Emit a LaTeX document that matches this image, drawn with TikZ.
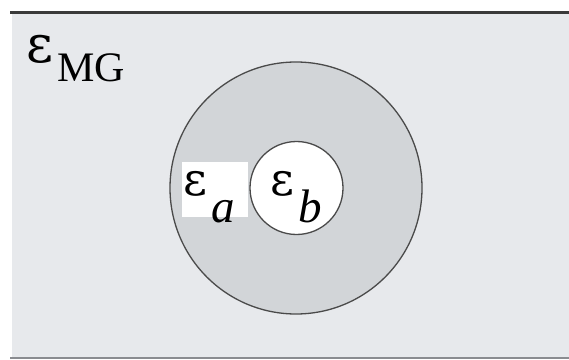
\documentclass[tikz,border=0pt]{standalone}
\usepackage{fontspec}
\setmainfont{Liberation Serif}
\newfontfamily\epsfont{DejaVu Serif}
\definecolor{panel}{HTML}{E7E9EC}
\definecolor{ringfill}{HTML}{D2D5D8}
\definecolor{edgecol}{HTML}{4A4A4A}
\definecolor{topline}{HTML}{3A3A3A}
\definecolor{botline}{HTML}{8A8C90}
\tikzset{
  ringcircle/.style={circle, draw=edgecol, line width=1.3pt, inner sep=0pt},
  lbl/.style={anchor=base west, inner sep=0pt, text=black},
}
\begin{document}
\begin{tikzpicture}[x=1pt,y=1pt]
\useasboundingbox (0,0) rectangle (569,359);
\fill[white] (0,0) rectangle (569,359);
\fill[panel] (12,2) rectangle (569,345);
\draw[line width=3pt, topline] (10,346) -- (569,346);
\draw[line width=2pt, botline] (10,1.5) -- (569,1.5);
\node[ringcircle, fill=ringfill, minimum size=252pt] (outer) at (296,171) {};
\node[ringcircle, fill=white, minimum size=93pt] (inner) at (296.5,171) {};
\node[fill=white, inner sep=0pt, minimum width=66pt, minimum height=55pt] (abox) at (215,169.5) {};
% labels
\node[lbl, font=\epsfont\fontsize{52}{52}\selectfont] (emg) at (26,296) {ε};
\node[lbl, font=\fontsize{42}{42}\selectfont] (mg) at (57,277) {MG};
\node[lbl, font=\epsfont\fontsize{46}{46}\selectfont] (ea) at (183,164) {ε};
\node[lbl, font=\fontsize{47}{47}\selectfont\itshape] (sa) at (211,137) {a};
\node[lbl, font=\epsfont\fontsize{46}{46}\selectfont] (eb) at (270,164) {ε};
\node[lbl, font=\fontsize{47}{47}\selectfont\itshape] (sb) at (298,137) {b};
\end{tikzpicture}
\end{document}
